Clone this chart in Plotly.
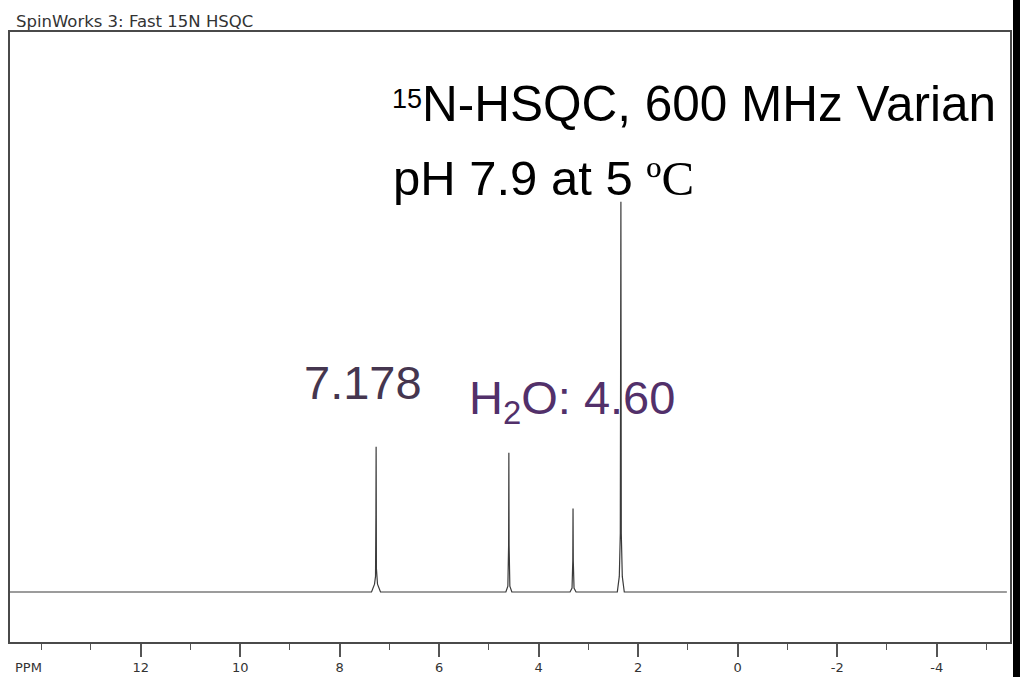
import plotly.graph_objects as go

# Spectrum trace (chemical shift in ppm, relative intensity)
ppm = [14.63,
       7.36, 7.30, 7.28, 7.272, 7.268, 7.262, 7.24, 7.18,
       4.66, 4.62, 4.605, 4.600, 4.595, 4.58, 4.54,
       3.37, 3.33, 3.315, 3.310, 3.305, 3.29, 3.25,
       2.42, 2.38, 2.36, 2.352, 2.348, 2.34, 2.32, 2.28,
       -5.41]
intensity = [0,
             0, 2.0, 4.0, 20, 37.2, 6.0, 2.0, 0,
             0, 1.5, 12, 35.7, 12, 1.5, 0,
             0, 1.0, 8, 21.4, 8, 1.0, 0,
             0, 4, 15, 60, 100, 15, 4, 0,
             0]

major_ticks = [12, 10, 8, 6, 4, 2, 0, -2, -4]
major_labels = ["12", "10", "8", "6", "4", "2", "0", "-2", "-4"]

x_range = [14.627, -5.473]
y_range = [-12.81, 143.5]

title_text = "SpinWorks 3: Fast 15N HSQC"
isotope = "15"
line1 = "N-HSQC, 600 MHz Varian"
line2 = "pH 7.9 at 5 <span style=\"font-family:'Liberation Serif'\">ºC</span>"
label_peak = "7.178"
label_water = "H<sub>2</sub>O: 4.60"

fig = go.Figure()
fig.add_trace(go.Scatter(x=ppm, y=intensity, mode="lines",
                         line=dict(color="#3a3a3a", width=1.2),
                         hoverinfo="skip", showlegend=False))

frame_color = "#4a4a4a"
fig.update_layout(
    width=1020, height=677,
    margin=dict(l=10, r=10, t=32, b=35, autoexpand=False),
    paper_bgcolor="white", plot_bgcolor="white",
    xaxis=dict(range=x_range, showgrid=False, zeroline=False, automargin=False,
               showline=True, linecolor=frame_color, linewidth=1.5, mirror=True,
               tickmode="array", tickvals=major_ticks, ticktext=major_labels,
               ticks="outside", ticklen=13, tickwidth=1.5, tickcolor="#555555",
               tickfont=dict(family="DejaVu Sans", size=13, color="#333333"),
               minor=dict(dtick=1, tick0=0, ticks="outside", ticklen=6,
                          tickwidth=1.2, tickcolor="#555555", showgrid=False)),
    yaxis=dict(range=y_range, showgrid=False, zeroline=False, automargin=False,
               showline=True, linecolor=frame_color, linewidth=1.5, mirror=True,
               showticklabels=False, ticks=""),
    font=dict(family="Liberation Sans"),
)

def px_x(px):
    return (px - 10) / 1000.0

def px_y(py):
    return (642 - py) / 610.0

annotations = [
    dict(text=title_text, x=px_x(14), y=px_y(22), xanchor="left", yanchor="middle",
         font=dict(family="DejaVu Sans", size=16.5, color="#333333")),
    dict(text="PPM", x=px_x(13), y=px_y(667), xanchor="left", yanchor="middle",
         font=dict(family="DejaVu Sans", size=13, color="#333333")),
    dict(text=isotope, x=px_x(390), y=px_y(99), xanchor="left", yanchor="middle",
         font=dict(family="Liberation Sans", size=27, color="#000000")),
    dict(text=line1, x=px_x(420), y=px_y(104), xanchor="left", yanchor="middle",
         font=dict(family="Liberation Sans", size=49.5, color="#000000")),
    dict(text=line2, x=px_x(391), y=px_y(178), xanchor="left", yanchor="middle",
         font=dict(family="Liberation Sans", size=49, color="#000000")),
    dict(text=label_peak, x=px_x(302), y=px_y(383), xanchor="left", yanchor="middle",
         font=dict(family="Liberation Sans", size=47, color="#45364f")),
    dict(text=label_water, x=px_x(467), y=px_y(401), xanchor="left", yanchor="middle",
         font=dict(family="Liberation Sans", size=47, color="#52306a")),
]
for a in annotations:
    a.update(xref="paper", yref="paper", showarrow=False)
fig.update_layout(annotations=annotations)

fig.add_shape(type="rect", xref="paper", yref="paper",
              x0=px_x(1013), x1=px_x(1030), y0=px_y(690), y1=px_y(-10),
              fillcolor="black", line=dict(width=0), layer="above")

fig.write_html("out.html")
